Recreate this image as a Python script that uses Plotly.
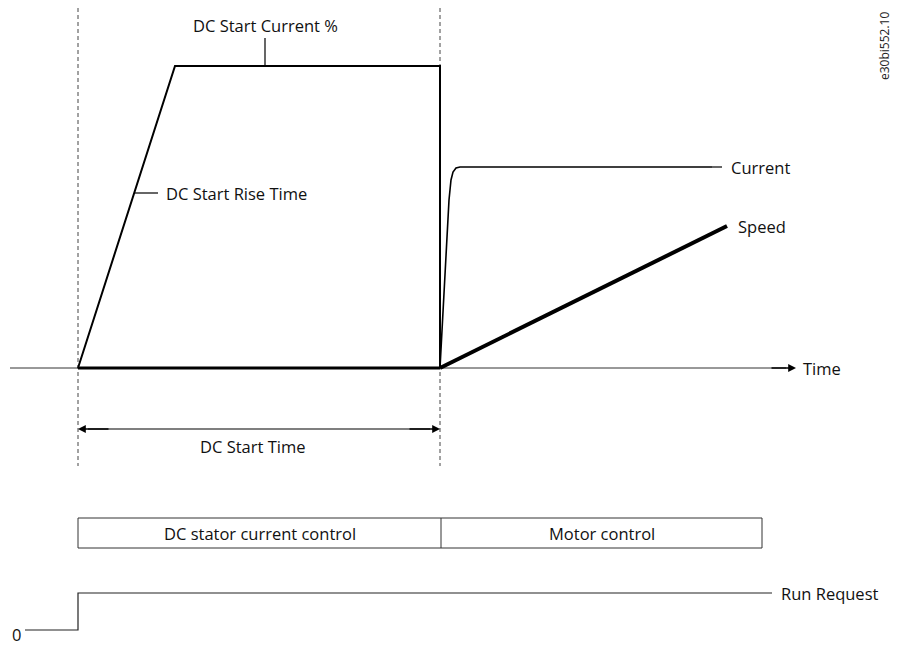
import plotly.graph_objects as go

#%% Datos (unidades del diagrama: x = tiempo, y = nivel, eje y invertido)
dc_t = [78, 175, 440, 440]
dc_i = [368, 66, 66, 368]

cur_t = [440, 446, 449, 451, 453, 456, 460, 712]
cur_i = [368, 260, 200, 180, 172, 168, 167, 167]

speed_t = [440, 727]
speed_v = [368, 226]

hold_t = [78, 440]
hold_v = [368, 368]

run_t = [25, 78, 78, 772]
run_v = [630, 630, 593, 593]

phase_labels = ["DC stator current control", "Motor control"]
phase_edges = [78, 441, 762]

markers_t = [78, 440]

FONT = "Open Sans"
FS = 16.5
# la pagina tiene 8px de margen en el body: la figura se reduce para caber
OFF = 8
W, H = 899 - 2 * OFF, 652 - 2 * OFF

fig = go.Figure()

def line(x, y, width=1.5, color="black", dash=None):
    fig.add_trace(go.Scatter(x=x, y=y, mode="lines", hoverinfo="skip",
                             line=dict(color=color, width=width, dash=dash)))

# lineas verticales discontinuas
for t in markers_t:
    line([t, t], [OFF, 466], width=1, color="#444", dash="4px,3px")

# eje de tiempo
line([10, 786], [368, 368], width=1, color="#333")

# corriente DC
line(dc_t, dc_i, width=2)
# corriente motor
line(cur_t, cur_i, width=1.6)
# velocidad
line(speed_t, speed_v, width=4)
# nivel cero engrosado
line(hold_t, hold_v, width=3)

# lineas guia de etiquetas
line([265, 265], [38, 66], width=1.2)
line([134, 158], [193, 193], width=1.2)
line([712, 722], [167, 167], width=1.2)

# cota DC Start Time
line([88, 430], [429, 429], width=1.2)

# caja de fases
line([phase_edges[0], phase_edges[-1], phase_edges[-1], phase_edges[0], phase_edges[0]],
     [518, 518, 548, 548, 518], width=1, color="#333")
line([phase_edges[1], phase_edges[1]], [518, 548], width=1, color="#333")

# run request
line(run_t, run_v, width=1.2, color="#222")

arrows = [
    dict(x=796, y=368, ax=770, ay=368),
    dict(x=78, y=429, ax=110, ay=429),
    dict(x=440, y=429, ax=408, ay=429),
]
for a in arrows:
    fig.add_annotation(x=a["x"], y=a["y"], ax=a["ax"], ay=a["ay"],
                       xref="x", yref="y", axref="x", ayref="y",
                       showarrow=True, arrowhead=2, arrowsize=1.2, arrowwidth=1.3,
                       arrowcolor="black", text="")

texts = [
    ("DC Start Current %", 265, 25, "center"),
    ("DC Start Rise Time", 164, 193, "left"),
    ("Current", 729, 167, "left"),
    ("Speed", 736, 226, "left"),
    ("Time", 801, 368, "left"),
    ("DC Start Time", 252, 446, "center"),
    (phase_labels[0], (phase_edges[0] + phase_edges[1]) / 2, 533, "center"),
    (phase_labels[1], (phase_edges[1] + phase_edges[2]) / 2, 533, "center"),
    ("Run Request", 779, 593, "left"),
    ("0", 16, 634, "center"),
]
for txt, x, y, anc in texts:
    fig.add_annotation(x=x, y=y, xref="x", yref="y", text=txt, showarrow=False,
                       xanchor=anc, yanchor="middle",
                       font=dict(family=FONT, size=FS, color="#111"))

fig.add_annotation(x=884, y=46, xref="x", yref="y", text="e30bi552.10", showarrow=False,
                   textangle=-90, xanchor="center", yanchor="middle",
                   font=dict(family=FONT, size=12, color="#222"))

fig.update_layout(
    width=W, height=H, showlegend=False,
    margin=dict(l=0, r=0, t=0, b=0),
    plot_bgcolor="white", paper_bgcolor="white",
    xaxis=dict(range=[OFF, OFF + W], visible=False, fixedrange=True),
    yaxis=dict(range=[OFF + H, OFF], visible=False, fixedrange=True),
)

fig.write_html("out.html")
